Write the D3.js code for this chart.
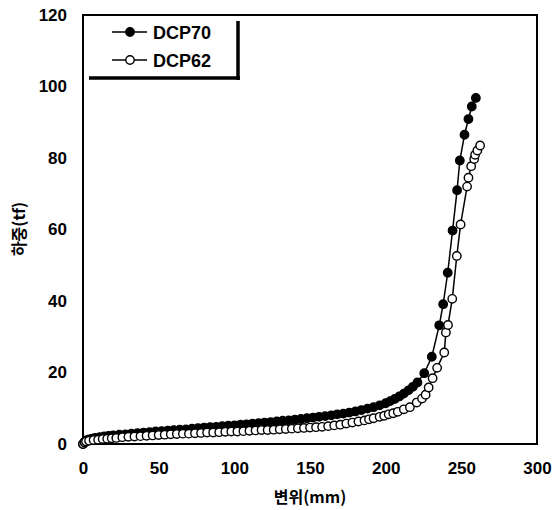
<!DOCTYPE html>
<html>
<head>
<meta charset="utf-8">
<script src="https://cdn.jsdelivr.net/npm/d3@7"></script>
<style>
body { margin: 0; background: #fff; }
text { font-family: "Liberation Sans", Arial, sans-serif; font-weight: bold; fill: #000; }
.kr { font-family: "Noto Sans CJK KR", sans-serif; }
</style>
</head>
<body>
<script>
const WIDTH = 553;
const HEIGHT = 510;
const MARGIN = {left: 83, top: 15, right: 16, bottom: 66};
const INNER_WIDTH = WIDTH - MARGIN.left - MARGIN.right;
const INNER_HEIGHT = HEIGHT - MARGIN.top - MARGIN.bottom;

const seriesNames = ['DCP70', 'DCP62'];
const xTicks = [0, 50, 100, 150, 200, 250, 300];
const yTicks = [0, 20, 40, 60, 80, 100, 120];

// displacement (mm), load (tf)
const dcp70Disp = [0,1,2,4,6,8,11,14,17,20,24,28,32,36,40,44,48,52,56,60,64,68,72,76,80,84,88,92,96,100,104,108,112,116,120,124,128,132,136,140,144,148,152,156,160,164,168,172,176,180,184,188,192,196,200,203,206,209,212,215,218,221,225.5,230.5,235.4,238,241,244.2,247.2,249,252.1,254.7,256.9,259.6];
const dcp70Load = [0,0.6,1.0,1.3,1.5,1.7,1.9,2.1,2.3,2.4,2.6,2.7,2.9,3.0,3.2,3.3,3.5,3.6,3.7,3.9,4.0,4.1,4.3,4.4,4.6,4.7,4.8,5.0,5.1,5.2,5.4,5.5,5.7,5.8,6.0,6.1,6.3,6.5,6.6,6.8,7.0,7.2,7.4,7.6,7.8,8.0,8.3,8.5,8.8,9.1,9.5,9.9,10.3,10.8,11.4,12.0,12.6,13.3,14.1,15.0,16.0,17.2,19.8,24.4,33.2,39.1,47.9,59.7,71.0,79.3,86.5,90.9,94.4,96.8];

const dcp62Disp = [0,1,2,4,7,10,13,16,19,22,26,30,34,38,42,46,50,54,58,62,66,70,74,78,82,86,90,94,98,102,106,110,114,118,122,126,130,134,138,142,146,150,154,158,162,166,170,174,178,182,186,189,192,196,199,202,205,208,212,216,220.5,224,226.4,228.4,231,234,238.7,239.8,241.2,244,247,249.5,253.8,254.7,256.5,258.5,259.1,260.6,262.4];
const dcp62Load = [0,0.4,0.7,0.9,1.1,1.2,1.4,1.5,1.6,1.7,1.9,2.0,2.1,2.2,2.3,2.4,2.5,2.6,2.7,2.8,2.9,2.9,3.0,3.1,3.2,3.2,3.3,3.4,3.5,3.5,3.6,3.7,3.8,3.9,3.9,4.0,4.1,4.2,4.3,4.4,4.5,4.6,4.7,4.8,5.0,5.2,5.4,5.7,6.0,6.3,6.6,6.9,7.2,7.6,7.9,8.3,8.6,9.0,9.7,10.3,11.6,12.7,13.8,15.8,18.4,21.3,25.6,31.2,33.3,40.6,52.6,61.4,72.0,74.5,77.7,79.7,80.9,82.1,83.5];

var zip = function(xs, ys){
	return xs.map(function(x, i){ return {x: x, y: ys[i]}; });
};

var drawGraph = function(){
	var svg = d3.select('body')
		.append('svg')
		.attr('width', WIDTH)
		.attr('height', HEIGHT);

	var xScale = d3.scaleLinear().domain([0, 300]).range([0, INNER_WIDTH]);
	var yScale = d3.scaleLinear().domain([0, 120]).range([INNER_HEIGHT, 0]);

	var g = svg.append('g')
		.attr('transform', 'translate(' + MARGIN.left + ',' + MARGIN.top + ')');

	// tick labels, no tick marks
	var xAxis = d3.axisBottom(xScale).tickValues(xTicks).tickSize(0).tickPadding(18);
	var xg = g.append('g')
		.attr('transform', 'translate(0,' + INNER_HEIGHT + ')')
		.call(xAxis);
	xg.select('.domain').remove();
	xg.selectAll('text').style('font-size', '17px').attr('font-family', null);

	var yAxis = d3.axisLeft(yScale).tickValues(yTicks).tickSize(0).tickPadding(16);
	var yg = g.append('g').call(yAxis);
	yg.select('.domain').remove();
	yg.selectAll('text').style('font-size', '17px').attr('font-family', null);

	// frame
	g.append('rect')
		.attr('width', INNER_WIDTH)
		.attr('height', INNER_HEIGHT)
		.attr('fill', 'none')
		.attr('stroke', '#000')
		.attr('stroke-width', 2);

	var line = d3.line()
		.x(function(d){ return xScale(d.x); })
		.y(function(d){ return yScale(d.y); });

	var series = [
		{name: seriesNames[0], data: zip(dcp70Disp, dcp70Load), fill: '#000'},
		{name: seriesNames[1], data: zip(dcp62Disp, dcp62Load), fill: '#fff'}
	];

	series.forEach(function(s){
		g.append('path')
			.attr('d', line(s.data))
			.attr('fill', 'none')
			.attr('stroke', '#000')
			.attr('stroke-width', 1.5);
	});

	series.forEach(function(s){
		g.append('g')
			.selectAll('circle')
			.data(s.data)
			.enter()
			.append('circle')
			.attr('cx', function(d){ return xScale(d.x); })
			.attr('cy', function(d){ return yScale(d.y); })
			.attr('r', 4.2)
			.attr('fill', s.fill)
			.attr('stroke', '#000')
			.attr('stroke-width', 1.4);
	});

	// legend with shadow edges
	var legend = svg.append('g');
	legend.append('line').attr('x1', 238).attr('x2', 238).attr('y1', 21).attr('y2', 80)
		.attr('stroke', '#000').attr('stroke-width', 3.5);
	legend.append('line').attr('x1', 89).attr('x2', 240).attr('y1', 78).attr('y2', 78)
		.attr('stroke', '#000').attr('stroke-width', 3.5);

	series.forEach(function(s, i){
		var ly = 32 + i * 28;
		legend.append('line').attr('x1', 112).attr('x2', 147).attr('y1', ly).attr('y2', ly)
			.attr('stroke', '#000').attr('stroke-width', 1.5);
		legend.append('circle').attr('cx', 130).attr('cy', ly).attr('r', 4.2)
			.attr('fill', s.fill).attr('stroke', '#000').attr('stroke-width', 1.4);
		legend.append('text').attr('x', 153).attr('y', ly + 6.5)
			.style('font-size', '18px')
			.text(s.name);
	});

	// axis titles
	svg.append('text')
		.attr('class', 'kr')
		.attr('x', MARGIN.left + INNER_WIDTH / 2)
		.attr('y', 503)
		.attr('text-anchor', 'middle')
		.style('font-size', '16px')
		.text('변위(mm)');

	svg.append('text')
		.attr('class', 'kr')
		.attr('transform', 'translate(25,229) rotate(-90)')
		.attr('text-anchor', 'middle')
		.style('font-size', '16px')
		.text('하중(tf)');
}

window.onload = function(){
	drawGraph();
}
</script>
</body>
</html>
